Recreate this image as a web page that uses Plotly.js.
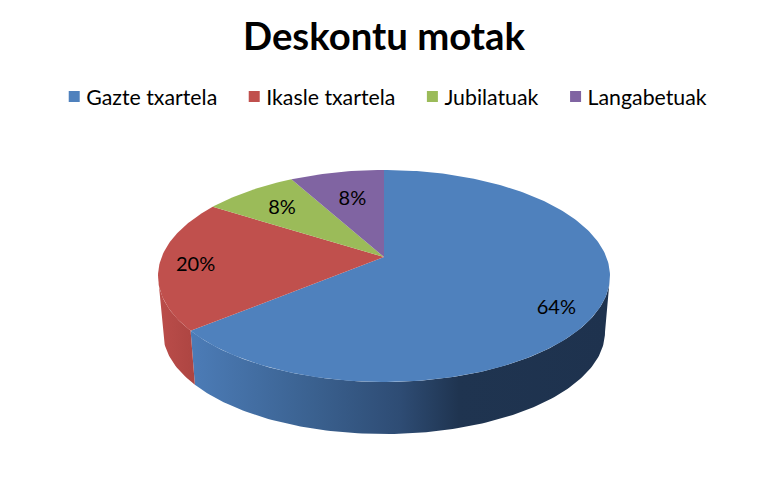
<!DOCTYPE html>
<html>
<head>
<meta charset="utf-8">
<script src="https://cdn.plot.ly/plotly-3.0.1.min.js"></script>
<style>html,body{margin:0;padding:0;background:#fff}#chart{width:768px;height:481px}</style>
</head>
<body>
<div id="chart"></div>
<script>
var categories = ["Gazte txartela", "Ikasle txartela", "Jubilatuak", "Langabetuak"];
var shares = [64, 20, 8, 8];
var sliceColors = ["#4f81bd", "#c0504d", "#9bbb59", "#8064a2"];
var labelTurn = [0.338, 0.74, 0.88, 0.96];
var labelReach = [0.83, 0.85, 0.75, 0.68];

var CX = 384, TOP_CY = 276, TOP_A = 226, TOP_B = 106, BASE_CY = 332, BASE_A = 221, BASE_B = 102;
var K = 0.179, S = Math.sqrt(1 - K * K), FONT = "Lato, 'Open Sans', sans-serif";

function project(turn, reach, cy, a, b) {
  var t = 2 * Math.PI * turn, u = reach * Math.sin(t), v = reach * Math.cos(t), d = 1 + K * v;
  return [CX + a * u * S / d, cy - b * (v + K) / d];
}
function arc(from, to, cy, a, b) {
  var out = [], n = Math.max(2, Math.ceil(Math.abs(to - from) * 360));
  for (var i = 0; i <= n; i++) out.push(project(from + (to - from) * i / n, 1, cy, a, b));
  return out;
}
function poly(points, extra) {
  var tr = {type: "scatter", mode: "lines", x: points.map(function (p) { return p[0]; }),
    y: points.map(function (p) { return p[1]; }), fill: "toself", line: {width: 0},
    showlegend: false, hoverinfo: "skip"};
  for (var key in extra) tr[key] = extra[key];
  return tr;
}

var total = shares.reduce(function (a, b) { return a + b; }, 0);
var traces = [], edges = [0];
shares.forEach(function (s, i) { edges.push(edges[i] + s / total); });

var sideStart = Math.acos(-K) / (2 * Math.PI), sideEnd = 1 - sideStart;
var blueSide = arc(sideStart, edges[1], TOP_CY, TOP_A, TOP_B).concat(arc(edges[1], sideStart, BASE_CY, BASE_A, BASE_B));
var redSide = arc(edges[1], sideEnd, TOP_CY, TOP_A, TOP_B).concat(arc(sideEnd, edges[1], BASE_CY, BASE_A, BASE_B));
traces.push(poly(blueSide, {fillgradient: {type: "horizontal",
  colorscale: [[0, "#4c7cb7"], [0.28, "#3b6291"], [0.5, "#2e4c74"], [0.64, "#1f3450"], [1, "#1e324e"]]}}));
traces.push(poly(redSide, {fillgradient: {type: "horizontal", colorscale: [[0, "#bb4d4a"], [1, "#ad4542"]]}}));

shares.forEach(function (s, i) {
  var pts = [project(0, 0, TOP_CY, TOP_A, TOP_B)].concat(arc(edges[i], edges[i + 1], TOP_CY, TOP_A, TOP_B));
  pts.push(pts[0]);
  traces.push(poly(pts, {fillcolor: sliceColors[i]}));
});

var labelPts = shares.map(function (s, i) { return project(labelTurn[i], labelReach[i], TOP_CY, TOP_A, TOP_B); });
traces.push({type: "scatter", mode: "text", x: labelPts.map(function (p) { return p[0] + 2; }),
  y: labelPts.map(function (p) { return p[1] + 3; }), text: shares.map(function (s) { return s + "%"; }),
  textposition: "middle center", textfont: {family: FONT, size: 20, color: "#000"},
  showlegend: false, hoverinfo: "skip"});

categories.forEach(function (name, i) {
  traces.push({type: "scatter", mode: "markers", name: name, x: [-100], y: [-100],
    marker: {symbol: "square", size: 11, color: sliceColors[i]}, hoverinfo: "skip"});
});

var layout = {
  width: 768, height: 481, margin: {l: 0, r: 0, t: 0, b: 0},
  paper_bgcolor: "#fff", plot_bgcolor: "#fff",
  title: {text: "<b>Deskontu motak</b>", x: 0.5, xanchor: "center", y: 0.923, yanchor: "middle",
    font: {family: FONT, size: 38.3, color: "#000"}},
  xaxis: {range: [0, 768], visible: false, fixedrange: true},
  yaxis: {range: [481, 0], visible: false, fixedrange: true},
  legend: {orientation: "h", x: 0.068, xanchor: "left", y: 0.799, yanchor: "middle",
    font: {family: FONT, size: 21.3, color: "#000"}, itemwidth: 34, traceorder: "normal",
    bgcolor: "rgba(0,0,0,0)"},
  showlegend: true
};
Plotly.newPlot("chart", traces, layout, {displayModeBar: false, responsive: false}).then(function (gd) {
  gd.querySelectorAll(".legendtext").forEach(function (t) {
    t.setAttribute("x", parseFloat(t.getAttribute("x")) - 10);
  });
});
</script>
</body>
</html>
